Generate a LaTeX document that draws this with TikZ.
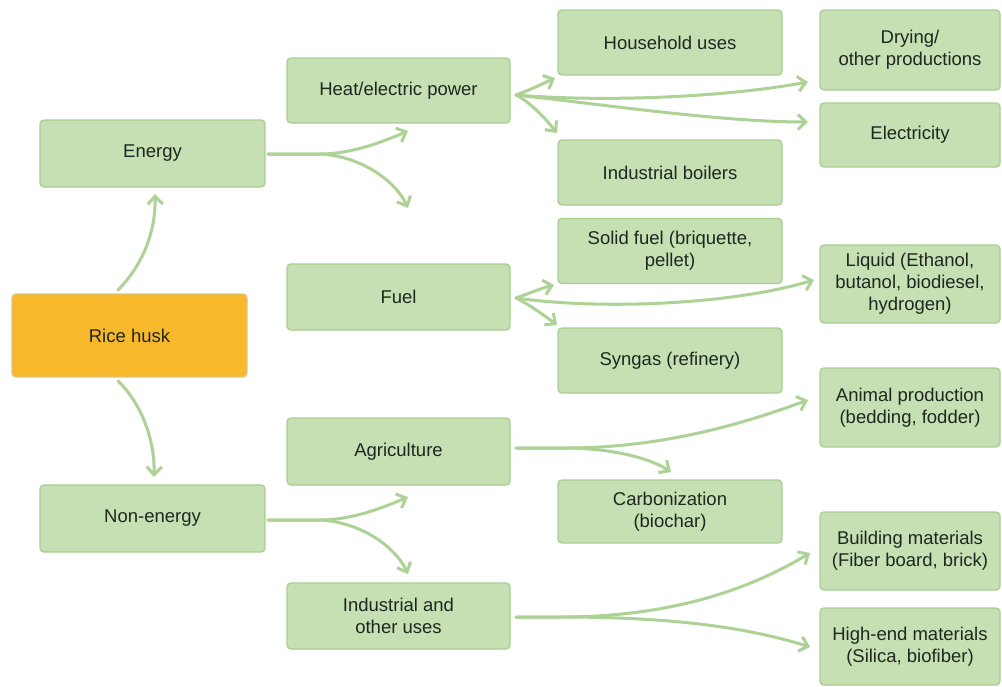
\documentclass[tikz,border=0pt]{standalone}
\usepackage{fontspec}
\setmainfont{Liberation Sans}
\usetikzlibrary{arrows.meta}
\definecolor{boxfill}{RGB}{198,224,180}
\definecolor{boxline}{RGB}{170,206,148}
\definecolor{rootfill}{RGB}{248,184,44}
\definecolor{rootline}{RGB}{226,196,120}
\definecolor{arrcol}{RGB}{172,210,150}
\definecolor{txt}{RGB}{30,40,30}
\tikzset{
  box/.style={draw=boxline, fill=boxfill, line width=1.4pt, rounded corners=4pt,
    align=center, inner sep=0pt, text=txt,
    font=\fontsize{18.5}{22}\selectfont},
  rootbox/.style={box, draw=rootline, fill=rootfill},
  arr/.style={draw=arrcol, line width=3pt, line cap=round,
    -{Straight Barb[length=8pt,width=15pt,line width=3pt]}},
}
\begin{document}
\begin{tikzpicture}[x=1pt,y=-1pt]
\useasboundingbox (0,0) rectangle (1002,686);
\fill[white] (0,0) rectangle (1002,686);

% column 1
\node[box, minimum width=225, minimum height=67] (energy) at (152.5,153.5) {Energy};
\node[rootbox, minimum width=235, minimum height=83] (rice) at (129.5,335.5) {Rice husk};
\node[box, minimum width=225, minimum height=67] (nonenergy) at (152.5,518.5) {Non-energy};

% column 2
\node[box, minimum width=223, minimum height=65] (heat) at (398.5,90.5) {Heat/electric power};
\node[box, minimum width=223, minimum height=66] (fuel) at (398.5,297) {Fuel};
\node[box, minimum width=223, minimum height=67] (agri) at (398.5,451.5) {Agriculture};
\node[box, minimum width=223, minimum height=66] (indus) at (398.5,616) {Industrial and\\other uses};

% column 3
\node[box, minimum width=224, minimum height=65] (house) at (670,42.5) {Household uses};
\node[box, minimum width=224, minimum height=65] (boil) at (670,172.5) {Industrial boilers};
\node[box, minimum width=224, minimum height=65] (solid) at (670,251) {Solid fuel (briquette,\\pellet)};
\node[box, minimum width=224, minimum height=65] (syn) at (670,360.5) {Syngas (refinery)};
\node[box, minimum width=224, minimum height=63] (carb) at (670,511.5) {Carbonization\\(biochar)};

% column 4
\node[box, minimum width=180, minimum height=80] (dry) at (910,50) {Drying/\\other productions};
\node[box, minimum width=180, minimum height=64] (elec) at (910,135) {Electricity};
\node[box, minimum width=180, minimum height=78] (liq) at (910,284) {Liquid (Ethanol,\\butanol, biodiesel,\\hydrogen)};
\node[box, minimum width=180, minimum height=79] (anim) at (910,407.5) {Animal production\\(bedding, fodder)};
\node[box, minimum width=180, minimum height=78] (build) at (910,551) {Building materials\\(Fiber board, brick)};
\node[box, minimum width=180, minimum height=77] (high) at (910,646.5) {High-end materials\\(Silica, biofiber)};

% free arrow ends
\coordinate (rE) at (118,290);
\coordinate (rN) at (118,381);
\coordinate (tE) at (155,194);
\coordinate (tN) at (154,477);
\coordinate (eS) at (268,154);
\coordinate (eUp) at (408,131);
\coordinate (eDn) at (408,208);
\coordinate (nS) at (268,520);
\coordinate (nUp) at (408,497);
\coordinate (nDn) at (408,574);
\coordinate (hS) at (516,95);
\coordinate (hHo) at (555,78);
\coordinate (hBo) at (557,133);
\coordinate (hDr) at (808,82);
\coordinate (hEl) at (808,122);
\coordinate (fS) at (516,298);
\coordinate (fSo) at (554,285);
\coordinate (fSy) at (557,325);
\coordinate (fLi) at (814,280);
\coordinate (aS) at (516,448);
\coordinate (aCa) at (671,472);
\coordinate (aAn) at (808,400);
\coordinate (iS) at (516,617);
\coordinate (iBu) at (810,553);
\coordinate (iHi) at (810,647);

% rice husk
\draw[arr] (rE) .. controls (140,268) and (156,235) .. (tE);
\draw[arr] (rN) .. controls (140,402) and (155,438) .. (tN);

% energy
\draw[arr] (eS) -- (320,154) .. controls (350,154) and (380,143) .. (eUp);
\draw[arr] (eS) -- (320,154) .. controls (360,156) and (395,180) .. (eDn);
% non-energy
\draw[arr] (nS) -- (320,520) .. controls (350,520) and (380,509) .. (nUp);
\draw[arr] (nS) -- (320,520) .. controls (360,522) and (395,546) .. (nDn);

% heat
\draw[arr] (hS) .. controls (530,90) and (542,84) .. (hHo);
\draw[arr] (hS) .. controls (530,102) and (545,118) .. (hBo);
\draw[arr] (hS) .. controls (600,102) and (720,98) .. (hDr);
\draw[arr] (hS) .. controls (600,104) and (720,122) .. (hEl);

% fuel
\draw[arr] (fS) .. controls (530,293) and (542,288) .. (fSo);
\draw[arr] (fS) .. controls (530,305) and (545,316) .. (fSy);
\draw[arr] (fS) .. controls (600,310) and (730,305) .. (fLi);

% agriculture
\draw[arr] (aS) -- (565,448) .. controls (610,448) and (650,458) .. (aCa);
\draw[arr] (aS) -- (565,448) .. controls (660,448) and (740,425) .. (aAn);

% industrial
\draw[arr] (iS) -- (560,617) .. controls (660,617) and (740,595) .. (iBu);
\draw[arr] (iS) -- (560,617) .. controls (660,617) and (740,625) .. (iHi);
\end{tikzpicture}
\end{document}
